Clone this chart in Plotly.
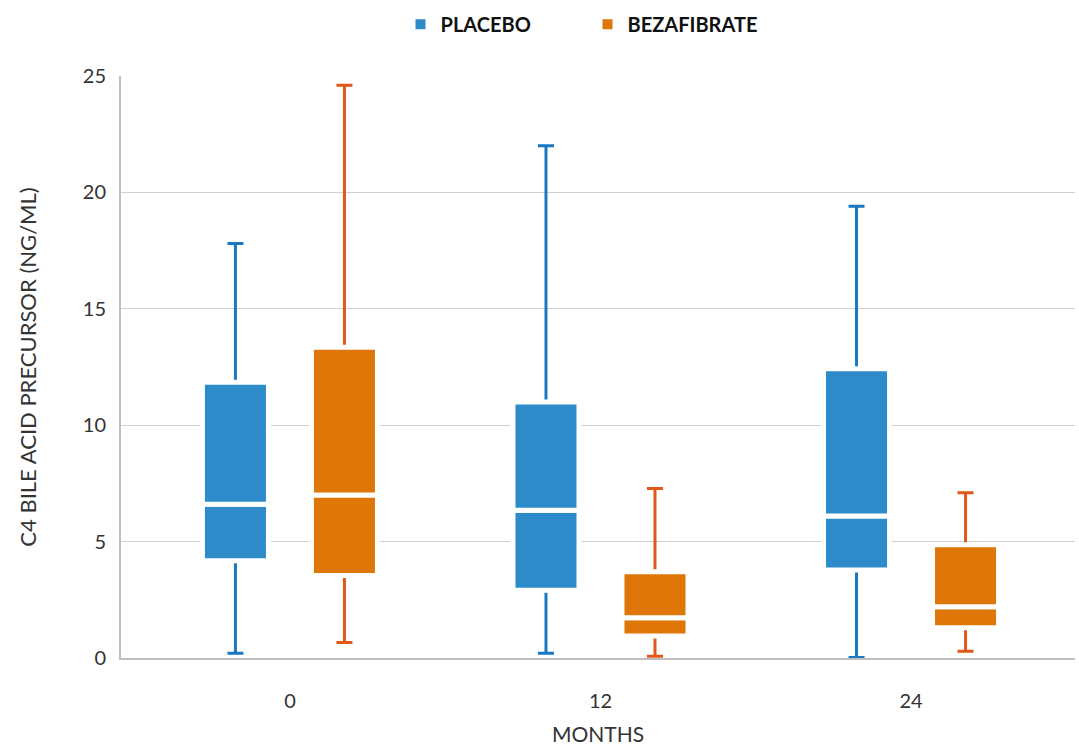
import plotly.graph_objects as go

months = ["0", "12", "24"]
series_names = ["PLACEBO", "BEZAFIBRATE"]

placebo_min = [0.2, 0.2, 0.02]
placebo_q1 = [4.18, 2.91, 3.78]
placebo_median = [6.6, 6.35, 6.1]
placebo_q3 = [11.85, 11.0, 12.42]
placebo_max = [17.8, 22.0, 19.4]

beza_min = [0.67, 0.07, 0.29]
beza_q1 = [3.54, 0.94, 1.30]
beza_median = [7.0, 1.73, 2.2]
beza_q3 = [13.35, 3.70, 4.87]
beza_max = [24.6, 7.28, 7.1]

y_ticks = [0, 5, 10, 15, 20, 25]

fill_colors = ["#2E8BCA", "#DE7608"]
whisker_colors = ["#1A78C2", "#E2581A"]
offsets = [-0.2818, 0.0692]
box_w = 0.2126

data = [
    (placebo_min, placebo_q1, placebo_median, placebo_q3, placebo_max),
    (beza_min, beza_q1, beza_median, beza_q3, beza_max),
]

fig = go.Figure()

# whiskers (drawn first so boxes cover them)
for i, (mn, q1, md, q3, mx) in enumerate(data):
    fig.add_trace(go.Bar(
        x=months, base=q1, y=[b - a for a, b in zip(q1, q3)],
        width=box_w, offset=offsets[i],
        marker=dict(color="rgba(0,0,0,0)", line=dict(width=0)),
        error_y=dict(type="data", symmetric=False,
                     array=[b - a for a, b in zip(q3, mx)],
                     arrayminus=[b - a for a, b in zip(mn, q3)],
                     color=whisker_colors[i], thickness=3, width=8),
        showlegend=False, hoverinfo="skip",
    ))

# boxes
for i, (mn, q1, md, q3, mx) in enumerate(data):
    fig.add_trace(go.Bar(
        x=months, base=q1, y=[b - a for a, b in zip(q1, md)],
        width=box_w, offset=offsets[i],
        marker=dict(color=fill_colors[i], line=dict(color="white", width=5)),
        name=series_names[i], legendgroup=series_names[i], showlegend=False,
    ))
    fig.add_trace(go.Bar(
        x=months, base=md, y=[b - a for a, b in zip(md, q3)],
        width=box_w, offset=offsets[i],
        marker=dict(color=fill_colors[i], line=dict(color="white", width=5)),
        name=series_names[i], legendgroup=series_names[i], showlegend=True,
    ))

fig.update_layout(
    width=1079, height=746,
    margin=dict(l=121, r=4, t=76, b=88),
    paper_bgcolor="white", plot_bgcolor="white",
    barmode="overlay",
    font=dict(family="Lato", color="#333333", size=16),
    legend=dict(orientation="h", x=0.489, xanchor="center", y=1.089, yanchor="middle",
                font=dict(family="Lato", size=20, color="#111111", weight="bold"),
                itemwidth=30, entrywidth=142, itemsizing="constant", traceorder="normal"),
    xaxis=dict(
        type="category", range=[-0.544, 2.528],
        showline=True, linecolor="#BFBFBF", linewidth=2,
        showgrid=False, ticks="", ticklabelstandoff=24,
        tickfont=dict(size=20, color="#333333"),
        title=dict(text="MONTHS", font=dict(size=21, color="#333333"), standoff=16),
    ),
    yaxis=dict(
        range=[0, 25], tickvals=y_ticks,
        showline=True, linecolor="#BFBFBF", linewidth=2,
        showgrid=True, gridcolor="#CFCFCF", gridwidth=1, zeroline=False,
        ticks="", ticklabelstandoff=9, tickfont=dict(size=20, color="#333333"),
        title=dict(text="C4 BILE ACID PRECURSOR (NG/ML)", font=dict(size=22, color="#333333"), standoff=40),
    ),
)

fig.write_html("out.html")
